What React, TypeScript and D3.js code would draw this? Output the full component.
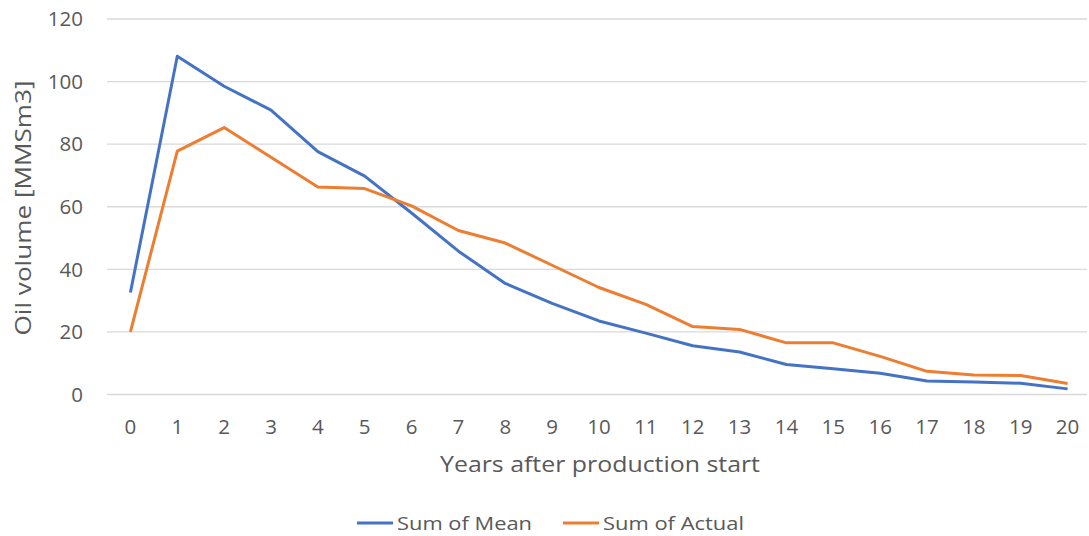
import React from "react";
import * as d3 from "d3";

const years = d3.range(0, 21).map(String);
const meanValues = [32.6, 108.1, 98.5, 90.9, 77.6, 69.8, 58.0, 45.8, 35.5, 29.1, 23.5, 19.6, 15.6, 13.6, 9.6, 8.2, 6.8, 4.3, 4.0, 3.6, 1.8];
const actualValues = [20.0, 77.8, 85.3, 75.8, 66.3, 65.8, 60.3, 52.4, 48.4, 41.3, 34.2, 28.8, 21.7, 20.8, 16.5, 16.5, 12.2, 7.4, 6.2, 6.1, 3.5];
const yTicks = [0, 20, 40, 60, 80, 100, 120];
const seriesNames = ["Sum of Mean", "Sum of Actual"];
const colors = ["#4472C4", "#ED7D31"];

const W = 1089;
const H = 536;
const left = 107;
const right = 1091;
const top = 19;
const bottom = 394.5;
const font = "'Open Sans', sans-serif";

export default function App() {
  const x = d3.scalePoint<string>().domain(years).range([left, right]).padding(0.5);
  const y = d3.scaleLinear().domain([0, 120]).range([bottom, top]);
  const line = d3
    .line<number>()
    .x((_, i) => x(years[i]) as number)
    .y((d) => y(d));
  const series = [meanValues, actualValues];

  return (
    <svg width={W} height={H} style={{ position: "absolute", left: 0, top: 0, background: "#fff" }} fontFamily={font}>
      {yTicks.map((t) => (
        <g key={t}>
          <line x1={left} x2={right - 4} y1={y(t)} y2={y(t)} stroke="#D9D9D9" strokeWidth={1.3} />
          <text x={83} y={y(t)} dy="0.35em" textAnchor="end" fontSize={20.5} fill="#595959">
            {t}
          </text>
        </g>
      ))}
      {years.map((yr) => (
        <text key={yr} x={x(yr)} y={427} dy="0.35em" textAnchor="middle" fontSize={20.5} fill="#595959">
          {yr}
        </text>
      ))}
      {series.map((s, i) => (
        <path key={i} d={line(s) || ""} fill="none" stroke={colors[i]} strokeWidth={3} strokeLinejoin="round" />
      ))}
      <text x={600} y={465} dy="0.35em" textAnchor="middle" fontSize={21} fill="#595959" textLength={320} lengthAdjust="spacingAndGlyphs">
        Years after production start
      </text>
      <text
        transform={`translate(24,${208}) rotate(-90)`}
        dy="0.35em"
        textAnchor="middle"
        fontSize={21}
        fill="#595959"
        textLength={255}
        lengthAdjust="spacingAndGlyphs"
      >
        Oil volume [MMSm3]
      </text>
      {seriesNames.map((n, i) => {
        const lx = i === 0 ? 357 : 563;
        const len = i === 0 ? 135 : 141;
        return (
          <g key={n}>
            <line x1={lx} x2={lx + 36} y1={523} y2={523} stroke={colors[i]} strokeWidth={3} />
            <text x={lx + 40} y={523} dy="0.35em" fontSize={19} fill="#595959" textLength={len} lengthAdjust="spacingAndGlyphs">
              {n}
            </text>
          </g>
        );
      })}
    </svg>
  );
}
